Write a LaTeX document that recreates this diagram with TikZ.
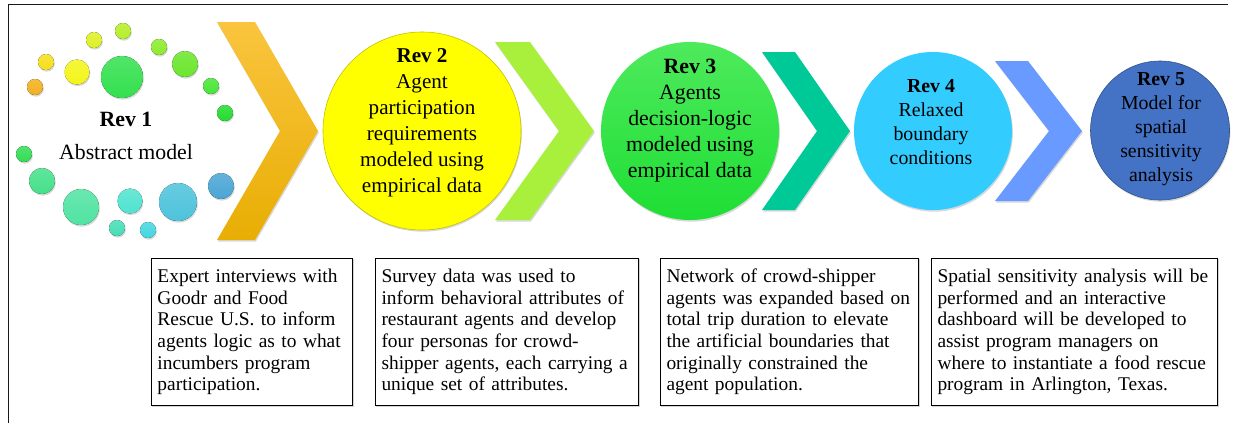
\documentclass[tikz,border=0pt]{standalone}
\usepackage{fontspec}
\setmainfont{Liberation Serif}
\newfontfamily\notefont[WordSpace=0.8]{Liberation Serif}
\usepackage{tikz}
\usetikzlibrary{shadows}

\definecolor{revtwo}{HTML}{FFFF00}
\definecolor{revfour}{HTML}{33CCFF}
\definecolor{revfive}{HTML}{4472C4}

\begin{document}
\begin{tikzpicture}[x=0.025cm, y=-0.025cm,
		soft shade/.style={drop shadow={shadow xshift=.6pt, shadow yshift=-1.2pt, opacity=.3}},
		chev1/.style={top color={rgb,255:red,250;green,196;blue,62}, bottom color={rgb,255:red,232;green,174;blue,4}},
		chev2/.style={fill={rgb,255:red,168;green,240;blue,60}},
		chev3/.style={fill={rgb,255:red,0;green,201;blue,152}},
		chev4/.style={fill={rgb,255:red,104;green,154;blue,255}}]
	\useasboundingbox (0,0) rectangle (1247,423);

	% open frame, top and left only
	\draw[line width=1.4pt, black!90] (8.5,423) -- (8.5,4.5) -- (1228,4.5);

	% bubbles round Rev 1
	\foreach \x/\y/\r/\c in {35/87/8/F2B01E, 46/62/8/F6DE1C, 94/40/8/DDF024, 123/31/8/B5EE28,
			77/72/12.5/F4F518, 122/77/21/33E04E, 159/47/8/8CEB2C, 185/64/13/6AE62C,
			211/86/8/48E536, 225/113/8/22DC2E, 24/154/8/34DC55, 42/181/13/45E08A,
			81/207/18/50E3A2, 130/201/12.5/4FE3CF, 117/228/8/45DDB5, 148/230/8/44D6E0,
			178/202/19/4DC3DB, 221/186/13/4AA5D5}
		{\definecolor{dot}{HTML}{\c}
		 \fill[soft shade, top color=dot!85!white, bottom color=dot] (\x,\y) circle[radius=\r*0.025cm];}

	% chevrons between the stages
	\foreach \xl/\w/\d/\h/\sty in {217/38/63/109/chev1, 495/35/64/89/chev2, 762/33/55/79/chev3, 995/33/54/70/chev4}
		\path[soft shade, \sty] (\xl,131-\h) -- ++(\w,0) -- ++(\d,\h) -- ++(-\d,\h) -- ++(-\w,0) -- ++(\d,-\h) -- cycle;

	\begin{scope}[every node/.style={circle, inner sep=0pt, soft shade}]
		\node[fill=revtwo, draw=revtwo!75!black, minimum size=4.95cm] (rev2) at (422,131) {};
		\node[top color={rgb,255:red,78;green,234;blue,92}, bottom color={rgb,255:red,30;green,222;blue,52},
			minimum size=4.45cm] (rev3) at (690,131) {};
		\node[fill=revfour, minimum size=3.95cm] (rev4) at (933,131) {};
		\node[fill=revfive, draw=revfive!70!black, minimum size=3.475cm] (rev5) at (1160,130.5) {};
	\end{scope}

	\begin{scope}[every node/.style={align=center, font=\fontsize{15.5}{18.5}\selectfont}]
		\node (rev1txt) at (126,136) {\textbf{Rev 1}\\[5pt]Abstract model};
		\node[font=\fontsize{15}{18.5}\selectfont] (rev2txt) at (422,123) {\textbf{Rev 2}\\Agent\\participation\\requirements\\modeled using\\empirical data};
		\node (rev3txt) at (690,121) {\textbf{Rev 3}\\Agents\\decision-logic\\modeled using\\empirical data};
	\end{scope}
	\begin{scope}[every node/.style={align=center, font=\fontsize{14.1}{17}\selectfont}]
		\node (rev4txt) at (931,122) {\textbf{Rev 4}\\Relaxed\\boundary\\conditions};
		\node (rev5txt) at (1161,129) {\textbf{Rev 5}\\Model for\\spatial\\sensitivity\\analysis};
	\end{scope}

	% notes under the stages
	\begin{scope}[every node/.style={draw, line width=.7pt, fill=white, anchor=north west, align=left,
			inner xsep=0.15cm, inner ysep=0.26cm, minimum height=3.675cm,
			font=\notefont\fontsize{13.8}{15.4}\selectfont, drop shadow={shadow xshift=.7pt, shadow yshift=-.7pt, opacity=.35}}]
		\node[text width=4.725cm] (note1) at (151,258) {Expert interviews with\\Goodr and Food\\Rescue U.S. to inform\\agents logic as to what\\incumbers program\\participation.};
		\node[text width=6.275cm] (note2) at (375,258) {Survey data was used to\\inform behavioral attributes of\\restaurant agents and develop\\four personas for crowd-\\shipper agents, each carrying a\\unique set of attributes.};
		\node[text width=6.15cm] (note3) at (660,258) {Network of crowd-shipper\\agents was expanded based on\\total trip duration to elevate\\the artificial boundaries that\\originally constrained the\\agent population.};
		\node[text width=6.85cm] (note4) at (931,258) {Spatial sensitivity analysis will be\\performed and an interactive\\dashboard will be developed to\\assist program managers on\\where to instantiate a food rescue\\program in Arlington, Texas.};
	\end{scope}
\end{tikzpicture}
\end{document}
